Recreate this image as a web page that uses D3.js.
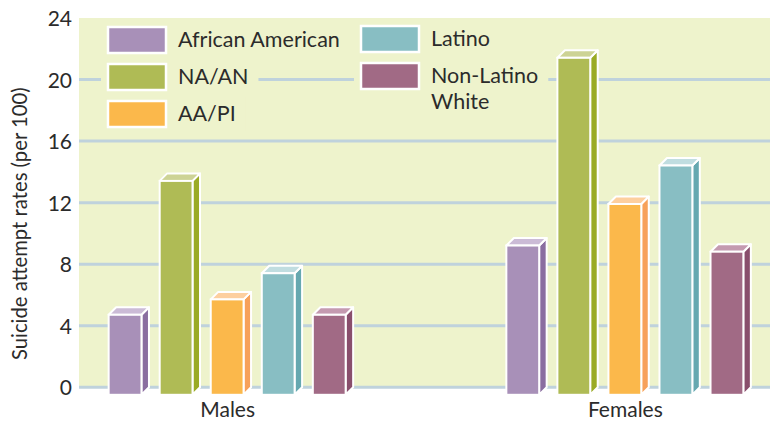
<!DOCTYPE html>
<html>
<head>
<meta charset="utf-8">
<script src="https://cdn.jsdelivr.net/npm/d3@7"></script>
<style>
  html, body { margin: 0; padding: 0; background: #fff; }
  svg { display: block; }
  text { font-family: Lato, "Noto Sans", sans-serif; fill: #2b2b2b; }
</style>
</head>
<body>
<svg id="chart" width="770" height="421"></svg>
<script>
// ---- data ----
const groups = ["Males", "Females"];
const series = ["African American", "NA/AN", "AA/PI", "Latino", "Non-Latino White"];
const males = [5.2, 13.9, 6.2, 7.9, 5.2];
const females = [9.7, 21.9, 12.4, 14.9, 9.3];
const yTicks = [0, 4, 8, 12, 16, 20, 24];
const frontColors = ["#a890b8", "#afbb55", "#fbb84b", "#88bec3", "#a16a85"];
const sideColors  = ["#8a6da0", "#9aab25", "#f7a15a", "#66a8b0", "#894e6c"];
const topColors   = ["#cbbbd6", "#cdd395", "#fdcf9f", "#c0dde0", "#c49ab0"];

const valuesByGroup = { "Males": males, "Females": females };
const FONT = "Lato, 'Noto Sans', sans-serif";

const svg = d3.select("#chart");
const plot = { left: 79, right: 770, top: 18, bottom: 387.3 };

const y = d3.scaleLinear().domain([0, 24]).range([plot.bottom, plot.top]);
const x0 = d3.scalePoint().domain(groups).range([80, 772]).padding(0.37);
const groupW = 237;
const x1 = d3.scaleBand().domain(series).range([-groupW / 2, groupW / 2]).paddingInner(0.357).paddingOuter(0);
const dx = 7.5, dy = 7.5;

// background
svg.append("rect")
  .attr("x", plot.left).attr("y", plot.top)
  .attr("width", plot.right - plot.left).attr("height", plot.bottom - plot.top)
  .attr("fill", "#eef3cc");

// gridlines
svg.append("g").selectAll("line")
  .data(yTicks.filter(t => t < 24))
  .join("line")
  .attr("x1", plot.left).attr("x2", plot.right)
  .attr("y1", d => y(d)).attr("y2", d => y(d))
  .attr("stroke", "#bfd2dc").attr("stroke-width", 3);

// y axis labels
const yAxis = d3.axisLeft(y).tickValues(yTicks).tickSize(0).tickPadding(0);
const gy = svg.append("g").attr("transform", "translate(72,0)").call(yAxis);
gy.select(".domain").remove();
gy.selectAll("text")
  .attr("font-size", 21)
  .attr("font-family", FONT)
  .attr("fill", "#2b2b2b")
  .attr("dy", "0.36em");

// y title
svg.append("text")
  .attr("transform", `translate(27,${(plot.top + plot.bottom) / 2 + 21}) rotate(-90)`)
  .attr("text-anchor", "middle")
  .attr("font-size", 20.3)
  .text("Suicide attempt rates (per 100)");

// bars
const bars = [];
groups.forEach(g => {
  valuesByGroup[g].forEach((v, i) => {
    bars.push({ group: g, series: series[i], value: v, i });
  });
});

const gb = svg.append("g");
bars.forEach(b => {
  const xl = x0(b.group) + x1(b.series);
  const bw = x1.bandwidth();
  const yt = y(b.value) + dy;   // front top
  const yb = y(0) + dy;         // front bottom
  const g = gb.append("g");
  g.append("path")
    .attr("d", `M${xl + bw},${yt} L${xl + bw + dx},${yt - dy} L${xl + bw + dx},${yb - dy} L${xl + bw},${yb} Z`)
    .attr("fill", sideColors[b.i]).attr("stroke", "#fff").attr("stroke-width", 2).attr("stroke-linejoin", "round");
  g.append("path")
    .attr("d", `M${xl},${yt} L${xl + dx},${yt - dy} L${xl + bw + dx},${yt - dy} L${xl + bw},${yt} Z`)
    .attr("fill", topColors[b.i]).attr("stroke", "#fff").attr("stroke-width", 2).attr("stroke-linejoin", "round");
  g.append("rect")
    .attr("x", xl).attr("y", yt).attr("width", bw).attr("height", yb - yt)
    .attr("fill", frontColors[b.i]).attr("stroke", "#fff").attr("stroke-width", 2);
});

// x labels
const xAxis = d3.axisBottom(x0).tickSize(0).tickPadding(0);
const gx = svg.append("g").attr("transform", "translate(0,417)").call(xAxis);
gx.select(".domain").remove();
gx.selectAll("text")
  .attr("font-size", 21)
  .attr("font-family", FONT)
  .attr("fill", "#2b2b2b")
  .attr("dy", 0);

// legend
const legendPos = [
  { x: 108, y: 27 }, { x: 108, y: 64 }, { x: 108, y: 101 },
  { x: 361, y: 26 }, { x: 361, y: 63 }
];
const legendLines = [["African American"], ["NA/AN"], ["AA/PI"], ["Latino"], ["Non-Latino", "White"]];
const gl = svg.append("g");
series.forEach((s, i) => {
  const p = legendPos[i];
  const item = gl.append("g");
  const bg = item.append("rect").attr("fill", "#eef3cc");
  item.append("rect")
    .attr("x", p.x).attr("y", p.y).attr("width", 58).attr("height", 26)
    .attr("fill", frontColors[i]).attr("stroke", "#fff").attr("stroke-width", 2.5);
  const t = item.append("text").attr("x", p.x + 70).attr("y", p.y + 20).attr("font-size", 21.5);
  legendLines[i].forEach((ln, k) => {
    t.append("tspan").attr("x", p.x + 70).attr("dy", k === 0 ? 0 : 26).text(ln);
  });
  const bb = t.node().getBBox();
  bg.attr("x", p.x - 7).attr("y", p.y - 4)
    .attr("width", bb.x + bb.width + 10 - (p.x - 7))
    .attr("height", Math.max(34, bb.y + bb.height - p.y + 4));
});
</script>
</body>
</html>
